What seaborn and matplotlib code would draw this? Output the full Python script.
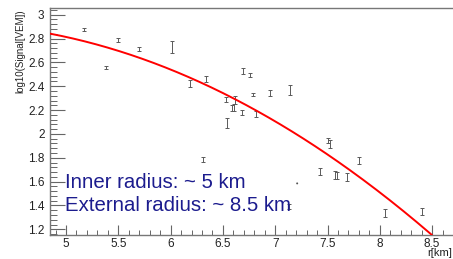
import numpy as np
import pandas as pd
import matplotlib
matplotlib.use("Agg")
import matplotlib.pyplot as plt
import seaborn as sns
from matplotlib.ticker import MultipleLocator

# ---- data ----
r_km = [5.17, 5.385, 5.50, 5.70, 6.01, 6.19, 6.34, 6.31, 6.53, 6.54, 6.59, 6.61,
        6.62, 6.68, 6.69, 6.76, 6.79, 6.82, 6.95, 7.14, 7.13, 7.43, 7.505, 7.52,
        7.57, 7.59, 7.69, 7.80, 8.05, 8.40]
log_signal = [2.877, 2.555, 2.79, 2.712, 2.73, 2.425, 2.458, 1.787, 2.29, 2.09, 2.22, 2.225,
              2.284, 2.18, 2.528, 2.494, 2.33, 2.164, 2.345, 2.37, 1.39, 1.683, 1.943, 1.915,
              1.655, 1.648, 1.636, 1.775, 1.339, 1.347]
log_err = [0.015, 0.012, 0.017, 0.017, 0.053, 0.03, 0.025, 0.02, 0.02, 0.04, 0.025, 0.03,
           0.035, 0.02, 0.025, 0.017, 0.012, 0.025, 0.025, 0.04, 0.02, 0.03, 0.02, 0.03,
           0.03, 0.03, 0.035, 0.03, 0.035, 0.03]
dot_r = [7.21]
dot_sig = [1.585]

# quadratic fit (pol2 around r0), parameters
fit_r0 = 6.57
fit_p = [2.312, -0.446, -0.0806]
fit_range = [4.847, 8.50]

annotations = ["Inner radius: ~ 5 km", "External radius: ~ 8.5 km"]
x_ticks = [5, 5.5, 6, 6.5, 7, 7.5, 8, 8.5]
y_ticks = [1.2, 1.4, 1.6, 1.8, 2, 2.2, 2.4, 2.6, 2.8, 3]

# ---- figure ----
sns.set_theme(style="white")
plt.rcParams['font.family'] = ['Liberation Sans', 'DejaVu Sans']

W, H = 453, 259
fig = plt.figure(figsize=(W / 100, H / 100), dpi=100)
L, R, T, B = 50, 460, 8, 235
ax = fig.add_axes([L / W, 1 - B / H, (R - L) / W, (B - T) / H])

px_per_x = 104.6
px_per_y = 119.2
ax.set_xlim(5 - (66 - L) / px_per_x, 5 + (R - 66) / px_per_x)
ax.set_ylim(1.2 - (B - 229.3) / px_per_y, 3 + (14.7 - T) / px_per_y)

# fit curve
xs = np.linspace(fit_range[0], fit_range[1], 200)
u = xs - fit_r0
ys = fit_p[0] + fit_p[1] * u + fit_p[2] * u ** 2
curve = pd.DataFrame({"r": xs, "y": ys})
sns.lineplot(data=curve, x="r", y="y", ax=ax, color="#ff0000", linewidth=1.4,
             zorder=3, legend=False)

# data points with error bars
ax.errorbar(r_km, log_signal, yerr=log_err, fmt='none', ecolor="#5a5a5a",
            elinewidth=0.7, capsize=1.3, capthick=0.7, zorder=2)
pts = pd.DataFrame({"r": dot_r, "y": dot_sig})
sns.scatterplot(data=pts, x="r", y="y", ax=ax, s=2, color="#555555",
                edgecolor="none", zorder=2, legend=False)

ax.set_xlabel("")
ax.set_ylabel("")

# ticks in ROOT style
ax.xaxis.set_minor_locator(MultipleLocator(0.1))
ax.yaxis.set_minor_locator(MultipleLocator(0.04))
ax.set_xticks(x_ticks)
ax.set_xticklabels([f"{v:g}" for v in x_ticks])
ax.set_yticks(y_ticks)
ax.set_yticklabels([f"{v:g}" for v in y_ticks])
ax.tick_params(axis='x', which='major', direction='in', length=7, width=0.8,
               color="#666666", labelsize=8.5, labelcolor="#222222", pad=2,
               bottom=True, top=False)
ax.tick_params(axis='x', which='minor', direction='in', length=3.5, width=0.7,
               color="#666666", bottom=True, top=False)
ax.tick_params(axis='y', which='major', direction='in', length=11, width=0.8,
               color="#666666", labelsize=8.5, labelcolor="#222222", pad=4,
               left=True, right=False)
ax.tick_params(axis='y', which='minor', direction='in', length=5, width=0.7,
               color="#666666", left=True, right=False)

for s in ax.spines.values():
    s.set_color("#777777")
    s.set_linewidth(1.0)

# annotations
txt_kw = dict(fontsize=14.7, color="#1c1c8e", family=['Liberation Sans', 'DejaVu Sans'])
fig.text(65 / W, 1 - 188.5 / H, annotations[0], ha='left', va='baseline', **txt_kw)
fig.text(65 / W, 1 - 211 / H, annotations[1], ha='left', va='baseline', **txt_kw)

# axis titles
fig.text(20 / W, 1 - 9 / H, "log10(Signal[VEM])", rotation=90, ha='center', va='top',
         fontsize=7, color="#222222")
fig.text(452 / W, 1 - 253.5 / H, "r[km]", ha='right', va='center',
         fontsize=8, color="#222222")

fig.savefig("out.png", dpi=100, facecolor="white")
